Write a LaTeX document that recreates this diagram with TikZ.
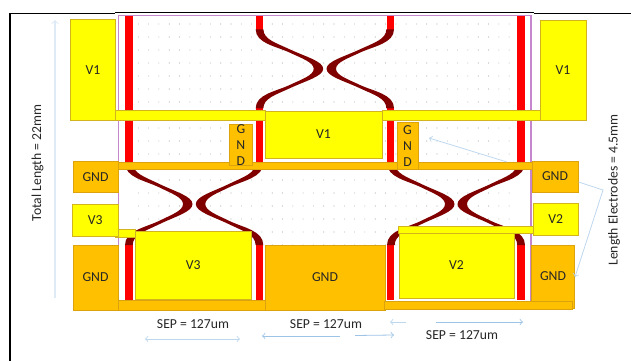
\documentclass[tikz,border=0pt]{standalone}
\usepackage{fontspec}
\setmainfont{Carlito}
\definecolor{padyellow}{HTML}{FFFF00}
\definecolor{edgeyellow}{HTML}{D2B41E}
\definecolor{padorange}{HTML}{FFC000}
\definecolor{edgeorange}{HTML}{DDA30C}
\definecolor{linered}{HTML}{FF0000}
\definecolor{wavered}{HTML}{800000}
\definecolor{framepurple}{HTML}{C586CE}
\definecolor{arrowblue}{HTML}{BDD7EE}
\definecolor{arrowdark}{HTML}{9DC3E6}
\definecolor{arrowpale}{HTML}{DEEAF6}
\definecolor{labelgray}{HTML}{262626}
\tikzset{
  vpad/.style={draw=edgeyellow,fill=padyellow,line width=0.5pt},
  gpad/.style={draw=edgeorange,fill=padorange,line width=0.5pt},
  padlabel/.style={text=labelgray,font=\fontsize{7.8}{9.2}\selectfont,align=center,inner sep=0pt},
  dimlabel/.style={padlabel},
  dimline/.style={<->,>=to,color=arrowblue,line width=0.45pt},
}
\newcommand{\crossing}[1]{
  \fill [wavered,#1] (0,0) -- (7.7,0) .. controls (7.7,10) and (20,13.5) .. (34,20)
    .. controls (50,27.5) and (67.5,32) .. (67.5,39.5)
    .. controls (67.5,47) and (50,51.5) .. (34,59)
    .. controls (20,65.5) and (7.7,69) .. (7.7,79) -- (0,79)
    .. controls (0,65) and (20,62.2) .. (34,55.7)
    .. controls (46,50) and (58,46) .. (58,39.5)
    .. controls (58,33) and (46,29) .. (34,23.3)
    .. controls (20,16.8) and (0,14) .. (0,0) -- cycle;
}
\begin{document}
\begin{tikzpicture}[x=0.02cm,y=-0.02cm]
  \useasboundingbox (0,0) rectangle (631,361);
  % frame
  \fill (9.3,12.7) rectangle (11,361);
  \fill (9.3,12.7) rectangle (115,14.3);
  \fill (115,12.2) rectangle (534,13.2);
  \fill (534,12.7) rectangle (631,14.2);
  % dots
  \foreach \i in {0,...,36}
    \foreach \j in {0,...,17}
      \fill [black!30] (138.3+10.3*\i,24+13*\j) circle [radius=0.55];
  \draw [framepurple,line width=0.75pt] (118.5,15.5) rectangle (531,303);
  % red lines
  \foreach \a in {125,517.3} {
    \fill [linered] (\a,16) rectangle (\a+7.6,162);
    \fill [linered] (\a,245) rectangle (\a+7.6,300);
  }
  \foreach \a in {255.7,386.7} {
    \fill [linered] (\a,16) rectangle (\a+7.6,30);
    \fill [linered] (\a,107) rectangle (\a+7.6,162);
    \fill [linered] (\a,245) rectangle (\a+7.6,300);
  }
  % waves
  \crossing{shift={(255.7,29.3)}}
  \crossing{shift={(394,29.3)},xscale=-1}
  \crossing{shift={(125,163)},yscale=1.04}
  \crossing{shift={(263.3,163)},xscale=-1,yscale=1.04}
  \crossing{shift={(387,163)},yscale=1.04}
  \crossing{shift={(525,163)},xscale=-1,yscale=1.04}
  % strips
  \draw [vpad] (115.5,110) rectangle (265,120);
  \draw [vpad] (382,110.5) rectangle (540,120);
  \draw [gpad] (118,162) rectangle (532,169.5);
  \draw [vpad] (115,229) rectangle (135,237);
  \draw [gpad] (118,300) rectangle (265,310);
  % pads
  \draw [vpad] (70.5,19.5) rectangle (115.5,120) node [padlabel,pos=0.5] (vleft) {V1};
  \draw [vpad] (540,20) rectangle (586,120) node [padlabel,pos=0.5] (vright) {V1};
  \draw [vpad] (265,111) rectangle (382,158) node [padlabel,pos=0.5] (vmid) {V1};
  \draw [gpad] (229.3,124) rectangle (252.5,165.5) node [padlabel,pos=0.5] (gndtl) {G\\N\\D};
  \draw [gpad] (397,122.5) rectangle (418,169) node [padlabel,pos=0.5] (gndtr) {G\\N\\D};
  \draw [gpad] (73,161) rectangle (118,192.5) node [padlabel,pos=0.5] (gndul) {GND};
  \draw [gpad] (532,161) rectangle (578,192) node [padlabel,pos=0.5] (gndur) {GND};
  \draw [vpad] (72.5,204) rectangle (118,236) node [padlabel,pos=0.5] (vthree) {V3};
  \draw [vpad] (533,203.5) rectangle (578.5,235) node [padlabel,pos=0.5] (vtwo) {V2};
  \draw [vpad] (135,231) rectangle (251.5,299) node [padlabel,pos=0.5] (vthreebig) {V3};
  \draw [vpad] (399,233) rectangle (514,298) node [padlabel,pos=0.5] (vtwobig) {V2};
  \draw [vpad] (398.5,226.5) rectangle (533,233.5);
  \draw [gpad] (73,245) rectangle (118,310) node [padlabel,pos=0.5] (gndll) {GND};
  \draw [gpad] (265,245) rectangle (385,310) node [padlabel,pos=0.5] (gndmid) {GND};
  \draw [gpad] (531.5,245) rectangle (574.5,308) node [padlabel,pos=0.5] (gndlr) {GND};
  \draw [gpad] (384.5,301) rectangle (572.5,309);
  % labels
  \node [dimlabel,rotate=90] (total) at (37.5,163) {Total Length = 22mm};
  \node [dimlabel,rotate=90] (elec) at (614,190) {Length Electrodes = 4.5mm};
  \node [dimlabel] (sepa) at (193,324) {SEP = 127um};
  \node [dimlabel] (sepb) at (326,324) {SEP = 127um};
  \node [dimlabel] (sepc) at (462,335) {SEP = 127um};
  % arrows
  \coordinate (ta) at (55,298);
  \coordinate (tb) at (55,20);
  \draw [->,>=to,color=arrowpale,line width=0.6pt] (ta) -- (tb);
  \coordinate (sa) at (145,339);
  \coordinate (sb) at (240,339);
  \draw [dimline] (sa) -- (sb);
  \coordinate (sc) at (262,336);
  \coordinate (sd) at (340,336);
  \coordinate (se) at (355,335.5);
  \coordinate (sf) at (394,335);
  \draw [->,>=to,color=arrowdark,line width=0.45pt] (sd) -- (sc);
  \draw [->,>=to,color=arrowdark,line width=0.45pt] (se) -- (sf);
  \coordinate (sg) at (390,322);
  \coordinate (sh) at (406,322);
  \coordinate (si) at (436,322);
  \coordinate (sj) at (523,322);
  \draw [->,>=to,color=arrowblue,line width=0.45pt] (sh) -- (sg);
  \draw [->,>=to,color=arrowdark,line width=0.45pt] (si) -- (sj);
  \coordinate (ea) at (578.5,182);
  \coordinate (eb) at (603,190);
  \coordinate (ec) at (575,277);
  \draw [->,>=to,color=arrowblue,line width=0.45pt] (ea) -- (eb) -- (ec);
  \coordinate (ed) at (507,162);
  \coordinate (ee) at (429,138);
  \draw [->,>=to,color=arrowblue,line width=0.45pt] (ed) -- (ee);
\end{tikzpicture}
\end{document}
